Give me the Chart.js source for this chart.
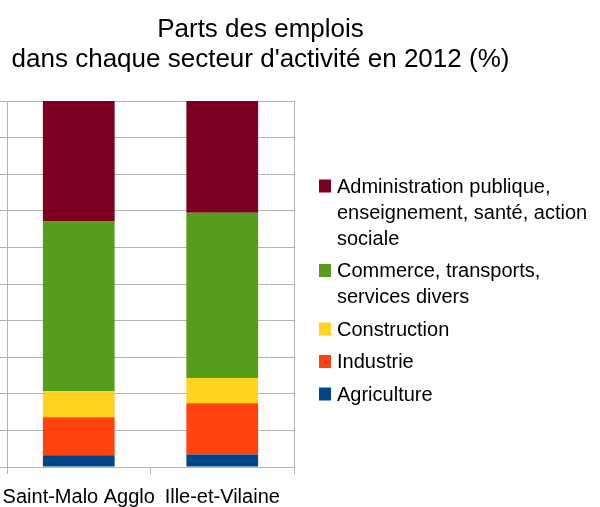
<!DOCTYPE html>
<html lang="fr">
<head>
<meta charset="utf-8">
<title>Parts des emplois</title>
<style>
  html, body { margin: 0; padding: 0; background: #fff; }
  #wrap { width: 600px; height: 507px; }
</style>
</head>
<body>
<div id="wrap"><canvas id="chart"></canvas></div>
<script src="https://cdn.jsdelivr.net/npm/chart.js@4.4.1/dist/chart.umd.min.js"></script>
<script>
const zones = ["Saint-Malo Agglo", "Ille-et-Vilaine"];
const agriculture = [3.2, 3.4];
const industrie = [10.4, 14.0];
const construction = [7.1, 6.9];
const commerce = [46.4, 45.2];
const administration = [32.9, 30.5];
const titleLines = ["Parts des emplois", "dans chaque secteur d'activité en 2012 (%)"];

const FONT = '"Liberation Sans", Arial, sans-serif';
const GRID = '#b3b3b3';

// legend on the right, drawn by hand because labels wrap on several lines
const sideLegend = {
  id: 'sideLegend',
  afterDraw(chart) {
    const ctx = chart.ctx;
    ctx.save();
    ctx.fillStyle = '#000';
    ctx.textBaseline = 'alphabetic';
    ctx.font = '26px ' + FONT;
    ctx.textAlign = 'center';
    ctx.fillText(titleLines[0], 260.5, 36.5);
    ctx.fillText(titleLines[1], 260.5, 66.5);

    ctx.font = '20px ' + FONT;
    ctx.textAlign = 'left';
    let y = 192.5;
    chart.data.datasets.slice().reverse().forEach(ds => {
      ctx.fillStyle = ds.backgroundColor;
      ctx.fillRect(319, y - 13, 12, 13);
      ctx.fillStyle = '#000';
      ds.legendLines.forEach((line, i) => {
        ctx.fillText(line, 337, y);
        if (i < ds.legendLines.length - 1) y += 26;
      });
      y += 32.5;
    });
    ctx.restore();
  }
};

new Chart(document.getElementById('chart'), {
  type: 'bar',
  data: {
    labels: zones,
    datasets: [
      { label: 'Agriculture', legendLines: ['Agriculture'], data: agriculture, backgroundColor: '#004586' },
      { label: 'Industrie', legendLines: ['Industrie'], data: industrie, backgroundColor: '#ff420e' },
      { label: 'Construction', legendLines: ['Construction'], data: construction, backgroundColor: '#ffd320' },
      { label: 'Commerce, transports, services divers', legendLines: ['Commerce, transports,', 'services divers'], data: commerce, backgroundColor: '#579d1c' },
      { label: 'Administration publique, enseignement, santé, action sociale', legendLines: ['Administration publique,', 'enseignement, santé, action', 'sociale'], data: administration, backgroundColor: '#7e0021' }
    ]
  },
  options: {
    responsive: true,
    maintainAspectRatio: false,
    animation: false,
    layout: { padding: { top: 101, right: 306, bottom: 0, left: 0 } },
    datasets: { bar: { barPercentage: 0.5, categoryPercentage: 1.0 } },
    plugins: {
      legend: { display: false },
      title: { display: false },
      tooltip: { enabled: false }
    },
    scales: {
      x: {
        stacked: true,
        // labels may run to the canvas edge, like the original
        afterFit: s => { s.paddingLeft = 0; s.paddingRight = 0; s.height = 40; },
        grid: {
          offset: true,
          color: c => c.index === 1 ? 'transparent' : GRID,
          tickColor: GRID,
          tickLength: 7
        },
        border: { color: GRID },
        ticks: { color: '#000', font: { size: 20, family: FONT }, padding: 11.5, maxRotation: 0, autoSkip: false }
      },
      y: {
        stacked: true,
        min: 0,
        max: 100,
        ticks: { display: false, stepSize: 10 },
        grid: { color: GRID, tickColor: GRID, tickLength: 7 },
        border: { color: GRID }
      }
    }
  },
  plugins: [sideLegend]
});
</script>
</body>
</html>
